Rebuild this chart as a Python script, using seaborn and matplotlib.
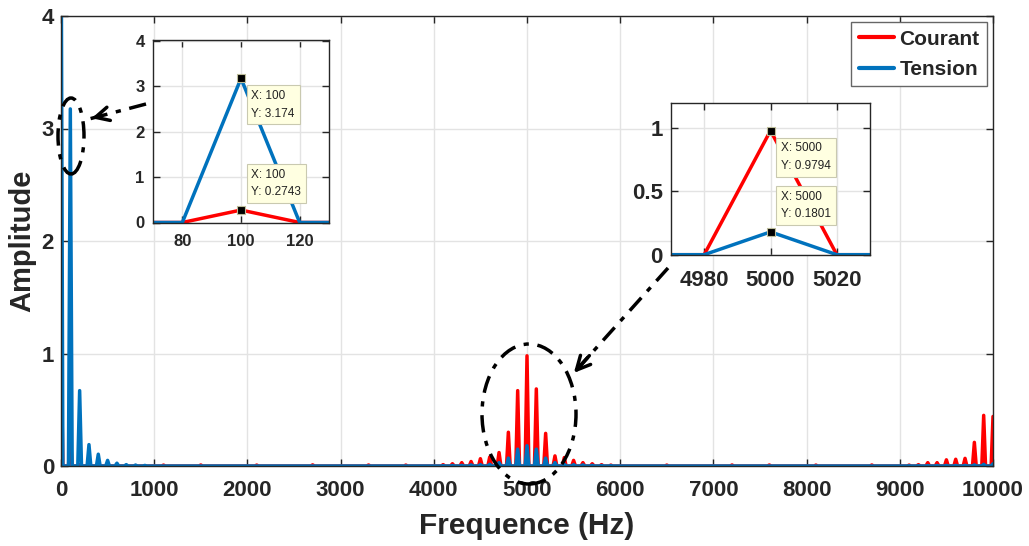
import numpy as np
import pandas as pd
import matplotlib
matplotlib.use("Agg")
import matplotlib.pyplot as plt
from matplotlib.patches import Ellipse, FancyArrowPatch
from matplotlib.lines import Line2D
import seaborn as sns

# spectrum data (20 Hz bins, harmonics every 100 Hz, other bins are zero)
freq_step = 20
freq_max = 10000

freq_low = [0, 100, 200, 300, 400, 500, 600, 700, 800, 900]
courant_low = [1.11, 0.2743, 0.012, 0.01, 0.008, 0.006, 0.005, 0.004, 0.004, 0.003]
tension_low = [5.2, 3.174, 0.67, 0.19, 0.105, 0.05, 0.025, 0.012, 0.008, 0.005]

freq_noise = [1100, 1500, 2100, 2700, 3300, 3700, 6500, 7200, 7600, 8100, 8700]
courant_noise = [0.008, 0.009, 0.008, 0.01, 0.009, 0.008, 0.008, 0.009, 0.009, 0.008, 0.009]

freq_mid = [4100, 4200, 4300, 4400, 4500, 4600, 4700, 4800, 4900, 5000,
            5100, 5200, 5300, 5400, 5500, 5600, 5700, 5800, 5900]
courant_mid = [0.012, 0.02, 0.03, 0.04, 0.065, 0.08, 0.12, 0.30, 0.67, 0.9794,
               0.685, 0.29, 0.09, 0.075, 0.05, 0.03, 0.02, 0.012, 0.008]
tension_mid = [0.003, 0.005, 0.006, 0.01, 0.012, 0.015, 0.03, 0.07, 0.15, 0.1801,
               0.15, 0.07, 0.03, 0.015, 0.012, 0.01, 0.006, 0.004, 0.003]

freq_high = [9100, 9200, 9300, 9400, 9500, 9600, 9700, 9800, 9900, 10000]
courant_high = [0.008, 0.012, 0.03, 0.03, 0.055, 0.06, 0.068, 0.21, 0.45, 0.44]
tension_high = [0.002, 0.002, 0.003, 0.004, 0.005, 0.005, 0.006, 0.01, 0.015, 0.02]

freqs = np.arange(0, freq_max + freq_step, freq_step)
courant = np.zeros(len(freqs))
tension = np.zeros(len(freqs))
for f_list, c_list in [(freq_low, courant_low), (freq_noise, courant_noise),
                       (freq_mid, courant_mid), (freq_high, courant_high)]:
    for f, v in zip(f_list, c_list):
        courant[f // freq_step] = v
for f_list, t_list in [(freq_low, tension_low), (freq_mid, tension_mid), (freq_high, tension_high)]:
    for f, v in zip(f_list, t_list):
        tension[f // freq_step] = v

df = pd.concat([
    pd.DataFrame({"Frequence": freqs, "Amplitude": courant, "Signal": "Courant"}),
    pd.DataFrame({"Frequence": freqs, "Amplitude": tension, "Signal": "Tension"}),
])
palette = {"Courant": "#FF0000", "Tension": "#0072BD"}

sns.set_style("ticks")
plt.rcParams["font.family"] = ["Liberation Sans", "DejaVu Sans"]
plt.rcParams["font.weight"] = "bold"

W, H = 1029, 546
fig = plt.figure(figsize=(W / 100, H / 100), dpi=100)


def fpos(x, y):
    return (x / W, 1 - y / H)


def style_axes(ax, size, xpad, ypad):
    ax.grid(True, color="#E3E3E3", linewidth=1)
    ax.set_axisbelow(True)
    ax.tick_params(direction="in", top=True, right=True, labelsize=size,
                   length=5, width=1, colors="#262626")
    ax.tick_params(axis="x", pad=xpad)
    ax.tick_params(axis="y", pad=ypad)
    for lab in ax.get_xticklabels() + ax.get_yticklabels():
        lab.set_fontweight("bold")
    for s in ax.spines.values():
        s.set_color("#262626")
        s.set_linewidth(1)
        s.set_visible(True)


# main axes
ax = fig.add_axes([61 / W, 80 / H, 932 / W, 450 / H])
sns.lineplot(data=df, x="Frequence", y="Amplitude", hue="Signal", palette=palette,
             estimator=None, sort=False, linewidth=2.5, ax=ax, legend=False)
ax.set_xlim(0, 10000)
ax.set_ylim(0, 4)
ax.set_xticks(range(0, 10001, 1000))
ax.set_yticks([0, 1, 2, 3, 4])
style_axes(ax, 16, 10, 5)
ax.set_xlabel("Frequence (Hz)", fontsize=21.5, fontweight="bold", color="#262626", labelpad=8)
ax.set_ylabel("Amplitude", fontsize=21, fontweight="bold", color="#262626", labelpad=4)

handles = [Line2D([], [], color=palette[k], linewidth=3) for k in palette]
leg = ax.legend(handles, list(palette), loc="upper right", frameon=True,
                fancybox=False, edgecolor="#666666", framealpha=1, handlelength=1.7,
                handletextpad=0.25, borderpad=0.35, labelspacing=0.55,
                borderaxespad=0.3, prop={"weight": "bold", "size": 15})
leg.get_frame().set_linewidth(1)


def data_tip(axi, x, y, text, above):
    axi.plot([x], [y], marker="s", markersize=6, color="black",
             markeredgecolor="#BDBD9A", markeredgewidth=0.8, zorder=5, clip_on=False)
    axi.annotate(text, xy=(x, y), xytext=(7.5, 8.5 if above else -8.5), textcoords="offset points",
                 ha="left", va="bottom" if above else "top", fontsize=8.5,
                 fontweight="normal", color="#222222", linespacing=1.6, zorder=6,
                 bbox=dict(boxstyle="square,pad=0.4", facecolor="#FFFFE1",
                           edgecolor="#C9C9B0", linewidth=0.8))


# inset around 100 Hz
ax1 = fig.add_axes([153 / W, (H - 222.5) / H, 176 / W, 183 / H])
sns.lineplot(data=df, x="Frequence", y="Amplitude", hue="Signal", palette=palette,
             estimator=None, sort=False, linewidth=2.5, ax=ax1, legend=False)
ax1.set_xlim(70, 130)
ax1.set_ylim(0, 4.03)
ax1.set_xticks([80, 100, 120])
ax1.set_yticks([0, 1, 2, 3, 4])
style_axes(ax1, 12, 8, 6)
ax1.set_xlabel("")
ax1.set_ylabel("")
i100 = 100 // freq_step
data_tip(ax1, 100, tension[i100], f"X: 100\nY: {tension[i100]:.4g}", False)
data_tip(ax1, 100, courant[i100], f"X: 100\nY: {courant[i100]:.4g}", True)

# inset around 5000 Hz
ax2 = fig.add_axes([671 / W, (H - 254.7) / H, 199 / W, 152 / H])
sns.lineplot(data=df, x="Frequence", y="Amplitude", hue="Signal", palette=palette,
             estimator=None, sort=False, linewidth=2.5, ax=ax2, legend=False)
ax2.set_xlim(4970, 5030)
ax2.set_ylim(0, 1.2)
ax2.set_xticks([4980, 5000, 5020])
ax2.set_yticks([0, 0.5, 1])
ax2.set_yticklabels(["0", "0.5", "1"])
style_axes(ax2, 16, 11, 6)
ax2.set_xlabel("")
ax2.set_ylabel("")
i5000 = 5000 // freq_step
data_tip(ax2, 5000, courant[i5000], f"X: 5000\nY: {courant[i5000]:.4g}", False)
data_tip(ax2, 5000, tension[i5000], f"X: 5000\nY: {tension[i5000]:.4g}", True)

# callouts
dashdot = (0, (5, 2.5, 1.5, 2.5))
for cx, cy, w, h in [(71, 136, 26, 76), (529, 414, 94, 140)]:
    fig.patches.append(Ellipse(fpos(cx, cy), w / W, h / H, fill=False, edgecolor="black",
                               linewidth=2.5, linestyle=dashdot,
                               transform=fig.transFigure, zorder=10))

for (x0, y0), (x1, y1) in [((146, 104), (89, 119)), ((668, 268), (572, 375))]:
    fig.lines.append(Line2D([x0 / W, x1 / W], [1 - y0 / H, 1 - y1 / H], color="black",
                            linewidth=2.5, linestyle=dashdot,
                            transform=fig.transFigure, zorder=10))
    bx = x1 + (x0 - x1) * 0.2
    by = y1 + (y0 - y1) * 0.2
    fig.add_artist(FancyArrowPatch(
        fpos(bx, by), fpos(x1, y1), transform=fig.transFigure,
        arrowstyle="->,head_length=0.7,head_width=0.35", mutation_scale=14,
        color="black", linewidth=2.5, zorder=11))

fig.savefig("out.png", dpi=100)
